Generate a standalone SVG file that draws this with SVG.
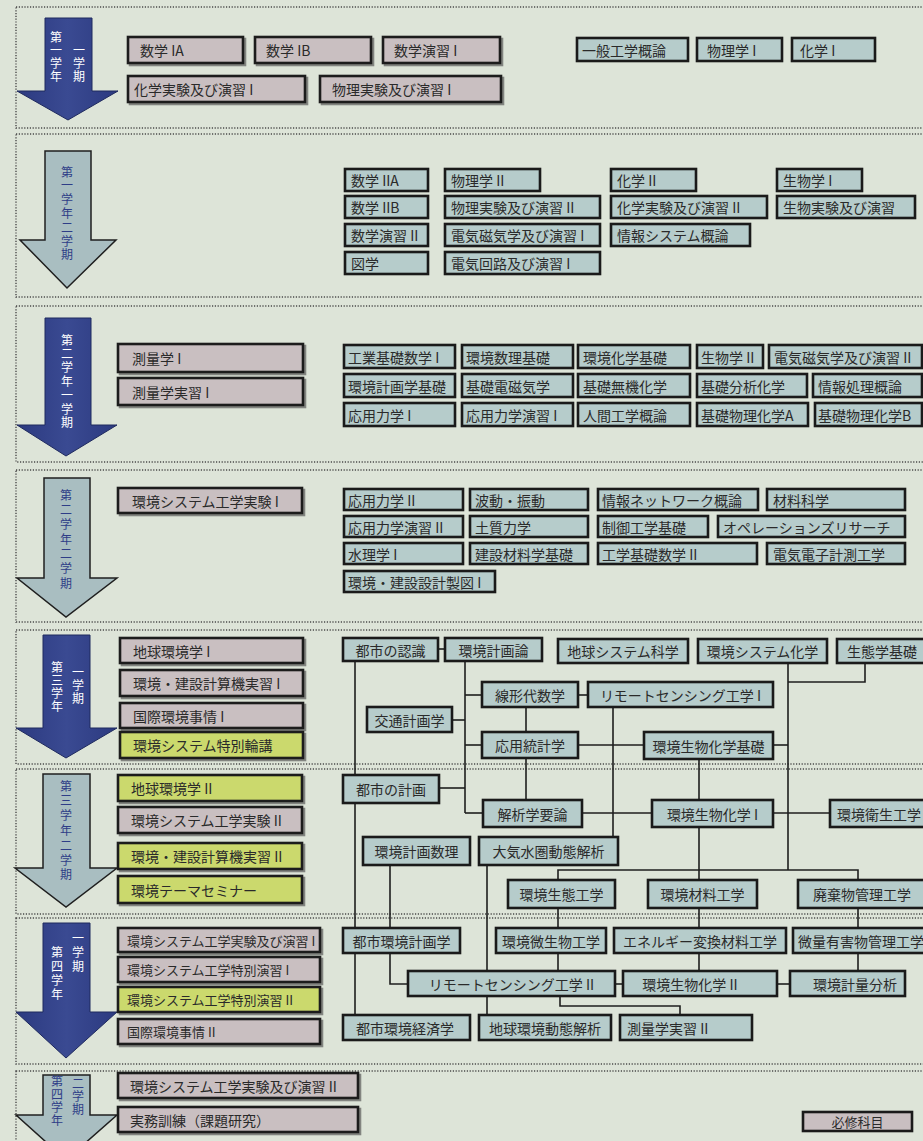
<svg xmlns="http://www.w3.org/2000/svg" width="923" height="1141" viewBox="0 0 923 1141">
<defs>
<filter id="ds" x="-5%" y="-20%" width="115%" height="160%"><feDropShadow dx="2" dy="2" stdDeviation="0.6" flood-color="#444" flood-opacity="0.6"/></filter>
<linearGradient id="gd" x1="0" y1="0" x2="1" y2="0"><stop offset="0" stop-color="#2c3a80"/><stop offset="0.5" stop-color="#3a4a92"/><stop offset="1" stop-color="#2c3a80"/></linearGradient>
</defs>
<style>
.sec{fill:none;stroke:#4a4a4a;stroke-width:1.4;stroke-dasharray:1.2 1.6}
.n rect{stroke:#1a1a1a;stroke-width:2.6}
.p{fill:#c9bfc1}
.b{fill:#b6cccb}
.y{fill:#cbd96d}
.sh{filter:url(#ds)}
text{font-family:"Noto Sans CJK JP","Noto Sans",sans-serif;font-size:14px;fill:#2a2a2a;dominant-baseline:central}
.c{text-anchor:middle}
.s13{font-size:13px}
.ad{fill:url(#gd);stroke:#1f2a5e;stroke-width:1}
.al{fill:#a9bec1;stroke:#1f1f1f;stroke-width:1.5}
.tw,.tb{font-size:12px;writing-mode:vertical-rl;text-anchor:start;letter-spacing:1px}
.tw{fill:#fff}
.tb{fill:#2e3d87}
#connectors path{fill:none;stroke:#1e1e1e;stroke-width:1.6}
</style>
<rect width="923" height="1141" fill="#dde4d8"/>
<g id="sections">
<rect class="sec" x="16" y="7" width="920" height="121"/>
<rect class="sec" x="16" y="134" width="920" height="163"/>
<rect class="sec" x="16" y="306" width="920" height="156"/>
<rect class="sec" x="16" y="470" width="920" height="152"/>
<rect class="sec" x="16" y="630" width="920" height="134"/>
<rect class="sec" x="16" y="769" width="920" height="145"/>
<rect class="sec" x="16" y="918" width="920" height="146"/>
<rect class="sec" x="16" y="1071" width="920" height="90"/>
</g>
<g id="arrows">
<g id="arrow-1-1"><polygon class="ad" points="45,18 92,18 92,91 118,91 68,120 17,91 45,91"/>
<text class="tw" x="56" y="31">第一学年</text><text class="tw" x="79" y="44">一学期</text></g>
<g id="arrow-1-2"><polygon class="al" points="45,151 91,151 91,240 116,240 67,288 20,240 45,240"/>
<text class="tb" x="67" y="166" style="letter-spacing:1.8px">第一学年二学期</text></g>
<g id="arrow-2-1"><polygon class="ad" points="45,318 91,318 91,425 117,425 66,456 17,425 45,425"/>
<text class="tw" x="67" y="334" style="letter-spacing:1.8px">第二学年一学期</text></g>
<g id="arrow-2-2"><polygon class="al" points="44,478 90,478 90,578 117,578 66,617 17,578 44,578"/>
<text class="tb" x="66" y="489" style="letter-spacing:2.7px">第二学年二学期</text></g>
<g id="arrow-3-1"><polygon class="ad" points="43,635 90,635 90,728 117,728 66,758 16,728 43,728"/>
<text class="tw" x="57" y="661" style="letter-spacing:1.3px">第三学年</text><text class="tw" x="78" y="666">一学期</text></g>
<g id="arrow-3-2"><polygon class="al" points="43,774 90,774 90,868 117,868 66,907 15,868 43,868"/>
<text class="tb" x="66" y="780" style="letter-spacing:2.8px">第三学年二学期</text></g>
<g id="arrow-4-1"><polygon class="ad" points="43,923 90,923 90,1012 117,1012 66,1058 16,1012 43,1012"/>
<text class="tw" x="57" y="946" style="letter-spacing:2px">第四学年</text><text class="tw" x="78" y="932" style="letter-spacing:2px">一学期</text></g>
<g id="arrow-4-2"><polygon class="al" points="43,1075 90,1075 90,1115 117,1115 66,1160 16,1115 43,1115"/>
<text class="tb" x="57" y="1075">第四学年</text><text class="tb" x="78" y="1077">二学期</text></g>
</g>
<g id="connectors">
<path d="M438,649 H445"/>
<path d="M355,660 V1015"/>
<path d="M465,660 V813"/>
<path d="M465,695 H482"/>
<path d="M452,720 H465"/>
<path d="M465,745 H482"/>
<path d="M439,788 H465"/>
<path d="M465,813 H483"/>
<path d="M578,695 H588"/>
<path d="M526,707 V732"/>
<path d="M526,758 V800"/>
<path d="M578,745 H644"/>
<path d="M613,707 V837"/>
<path d="M582,813 H652"/>
<path d="M699,759 V800"/>
<path d="M788,663 V870"/>
<path d="M788,682 H865 V663"/>
<path d="M773,745 H788"/>
<path d="M773,813 H830"/>
<path d="M558,880 V870 H858 V880"/>
<path d="M699,827 V880"/>
<path d="M487,865 V1015"/>
<path d="M390,865 V984 H408"/>
<path d="M558,908 V928"/>
<path d="M699,908 V928"/>
<path d="M858,908 V928"/>
<path d="M558,953 V971"/>
<path d="M699,953 V971"/>
<path d="M858,953 V971"/>
<path d="M615,984 H623"/>
<path d="M777,984 H790"/>
<path d="M560,996 V1006 H680 V1015"/>
</g>
<g id="n-math1a" class="n"><rect class="p sh" x="128" y="37" width="115" height="26"/><text x="140" y="50">数学 IA</text></g>
<g id="n-math1b" class="n"><rect class="p sh" x="255" y="37" width="116" height="26"/><text x="266" y="50">数学 IB</text></g>
<g id="n-mathex1" class="n"><rect class="p sh" x="383" y="37" width="117" height="26"/><text x="394" y="50">数学演習 I</text></g>
<g id="n-chemlab1" class="n"><rect class="p sh" x="128" y="76" width="177" height="26"/><text x="134" y="89">化学実験及び演習 I</text></g>
<g id="n-physlab1" class="n"><rect class="p sh" x="320" y="76" width="181" height="26"/><text x="332" y="89">物理実験及び演習 I</text></g>
<g id="n-genEng" class="n"><rect class="b" x="577" y="38" width="111" height="23"/><text x="582" y="49.5">一般工学概論</text></g>
<g id="n-phys1" class="n"><rect class="b" x="697" y="38" width="85" height="23"/><text x="707" y="49.5">物理学 I</text></g>
<g id="n-chem1" class="n"><rect class="b" x="792" y="38" width="83" height="23"/><text x="800" y="49.5">化学 I</text></g>

<g id="n-math2a" class="n"><rect class="b" x="345" y="169" width="83" height="22"/><text x="351" y="180">数学 IIA</text></g>
<g id="n-math2b" class="n"><rect class="b" x="345" y="196" width="83" height="22"/><text x="351" y="207">数学 IIB</text></g>
<g id="n-mathex2" class="n"><rect class="b" x="345" y="224" width="83" height="22"/><text x="351" y="235">数学演習 II</text></g>
<g id="n-zugaku" class="n"><rect class="b" x="345" y="252" width="83" height="22"/><text x="351" y="263">図学</text></g>
<g id="n-phys2" class="n"><rect class="b" x="445" y="169" width="95" height="22"/><text x="451" y="180">物理学 II</text></g>
<g id="n-physlab2" class="n"><rect class="b" x="445" y="196" width="155" height="22"/><text x="451" y="207">物理実験及び演習 II</text></g>
<g id="n-em1" class="n"><rect class="b" x="445" y="224" width="155" height="22"/><text x="451" y="235">電気磁気学及び演習 I</text></g>
<g id="n-circ1" class="n"><rect class="b" x="445" y="252" width="155" height="22"/><text x="451" y="263">電気回路及び演習 I</text></g>
<g id="n-chem2" class="n"><rect class="b" x="611" y="169" width="85" height="22"/><text x="617" y="180">化学 II</text></g>
<g id="n-chemlab2" class="n"><rect class="b" x="611" y="196" width="156" height="22"/><text x="617" y="207">化学実験及び演習 II</text></g>
<g id="n-infosys" class="n"><rect class="b" x="611" y="224" width="139" height="22"/><text x="617" y="235">情報システム概論</text></g>
<g id="n-bio1" class="n"><rect class="b" x="777" y="169" width="85" height="22"/><text x="783" y="180">生物学 I</text></g>
<g id="n-biolab" class="n"><rect class="b" x="777" y="196" width="138" height="22"/><text x="783" y="207">生物実験及び演習</text></g>

<g id="n-survey1" class="n"><rect class="p sh" x="118" y="344" width="185" height="28"/><text x="132" y="358">測量学 I</text></g>
<g id="n-surveylab1" class="n"><rect class="p sh" x="118" y="378" width="185" height="27"/><text x="132" y="391.5">測量学実習 I</text></g>
<g id="n-indmath1" class="n"><rect class="b" x="344" y="345" width="111" height="23"/><text x="348" y="356.5">工業基礎数学 I</text></g>
<g id="n-envplanbase" class="n"><rect class="b" x="344" y="374" width="111" height="23"/><text x="348" y="385.5">環境計画学基礎</text></g>
<g id="n-mech1" class="n"><rect class="b" x="344" y="403" width="111" height="23"/><text x="348" y="414.5">応用力学 I</text></g>
<g id="n-envmath" class="n"><rect class="b" x="462" y="345" width="111" height="23"/><text x="466" y="356.5">環境数理基礎</text></g>
<g id="n-basicem" class="n"><rect class="b" x="462" y="374" width="111" height="23"/><text x="466" y="385.5">基礎電磁気学</text></g>
<g id="n-mechex1" class="n"><rect class="b" x="462" y="403" width="111" height="23"/><text x="466" y="414.5">応用力学演習 I</text></g>
<g id="n-envchem" class="n"><rect class="b" x="578" y="345" width="112" height="23"/><text x="583" y="356.5">環境化学基礎</text></g>
<g id="n-inorg" class="n"><rect class="b" x="578" y="374" width="112" height="23"/><text x="583" y="385.5">基礎無機化学</text></g>
<g id="n-ergo" class="n"><rect class="b" x="578" y="403" width="112" height="23"/><text x="583" y="414.5">人間工学概論</text></g>
<g id="n-bio2" class="n"><rect class="b" x="697" y="345" width="66" height="23"/><text x="701" y="356.5">生物学 II</text></g>
<g id="n-anal" class="n"><rect class="b" x="697" y="374" width="110" height="23"/><text x="701" y="385.5">基礎分析化学</text></g>
<g id="n-physchemA" class="n"><rect class="b" x="697" y="403" width="111" height="23"/><text x="701" y="414.5">基礎物理化学A</text></g>
<g id="n-em2" class="n"><rect class="b" x="769" y="345" width="153" height="23"/><text x="774" y="356.5">電気磁気学及び演習 II</text></g>
<g id="n-infoproc" class="n"><rect class="b" x="813" y="374" width="109" height="23"/><text x="818" y="385.5">情報処理概論</text></g>
<g id="n-physchemB" class="n"><rect class="b" x="815" y="403" width="107" height="23"/><text x="818" y="414.5">基礎物理化学B</text></g>

<g id="n-envsyslab1" class="n"><rect class="p sh" x="118" y="488" width="184" height="25"/><text x="132" y="500.5">環境システム工学実験 I</text></g>
<g id="n-mech2" class="n"><rect class="b" x="344" y="489" width="119" height="21"/><text x="348" y="499.5">応用力学 II</text></g>
<g id="n-mechex2" class="n"><rect class="b" x="344" y="516" width="119" height="21"/><text x="348" y="526.5">応用力学演習 II</text></g>
<g id="n-hydro1" class="n"><rect class="b" x="344" y="543" width="119" height="21"/><text x="348" y="553.5">水理学 I</text></g>
<g id="n-drafting1" class="n"><rect class="b" x="344" y="571" width="151" height="21"/><text x="348" y="581.5">環境・建設設計製図 I</text></g>
<g id="n-wave" class="n"><rect class="b" x="470" y="489" width="118" height="21"/><text x="475" y="499.5">波動・振動</text></g>
<g id="n-soil" class="n"><rect class="b" x="470" y="516" width="118" height="21"/><text x="475" y="526.5">土質力学</text></g>
<g id="n-constmat" class="n"><rect class="b" x="470" y="543" width="118" height="21"/><text x="475" y="553.5">建設材料学基礎</text></g>
<g id="n-network" class="n"><rect class="b" x="598" y="489" width="160" height="21"/><text x="602" y="499.5">情報ネットワーク概論</text></g>
<g id="n-control" class="n"><rect class="b" x="598" y="516" width="110" height="21"/><text x="602" y="526.5">制御工学基礎</text></g>
<g id="n-engmath2" class="n"><rect class="b" x="598" y="543" width="159" height="21"/><text x="602" y="553.5">工学基礎数学 II</text></g>
<g id="n-matsci" class="n"><rect class="b" x="767" y="489" width="138" height="21"/><text x="773" y="499.5">材料科学</text></g>
<g id="n-or" class="n"><rect class="b" x="718" y="516" width="187" height="21"/><text x="723" y="526.5">オペレーションズリサーチ</text></g>
<g id="n-elecmeas" class="n"><rect class="b" x="767" y="543" width="138" height="21"/><text x="773" y="553.5">電気電子計測工学</text></g>

<g id="n-earthenv1" class="n"><rect class="p sh" x="120" y="638" width="183" height="25"/><text x="133" y="650.5">地球環境学 I</text></g>
<g id="n-comp1" class="n"><rect class="p sh" x="120" y="670" width="183" height="26"/><text x="133" y="683">環境・建設計算機実習 I</text></g>
<g id="n-intl1" class="n"><rect class="p sh" x="120" y="703" width="183" height="25"/><text x="133" y="715.5">国際環境事情 I</text></g>
<g id="n-seminar" class="n"><rect class="y sh" x="120" y="732" width="183" height="26"/><text x="133" y="745">環境システム特別輪講</text></g>
<g id="n-urbanrec" class="n"><rect class="b" x="343" y="638" width="95" height="23"/><text class="c" x="390.5" y="649.5">都市の認識</text></g>
<g id="n-envplan" class="n"><rect class="b" x="445" y="638" width="97" height="23"/><text class="c" x="493.5" y="649.5">環境計画論</text></g>
<g id="n-earthsys" class="n"><rect class="b" x="558" y="639" width="130" height="24"/><text class="c" x="623" y="651">地球システム科学</text></g>
<g id="n-envsyschem" class="n"><rect class="b" x="698" y="639" width="129" height="24"/><text class="c" x="762.5" y="651">環境システム化学</text></g>
<g id="n-ecology" class="n"><rect class="b" x="837" y="639" width="95" height="24"/><text x="847" y="651">生態学基礎</text></g>
<g id="n-linalg" class="n"><rect class="b" x="482" y="682" width="96" height="25"/><text class="c" x="530" y="694.5">線形代数学</text></g>
<g id="n-rs1" class="n"><rect class="b" x="588" y="682" width="185" height="25"/><text class="c" x="680.5" y="694.5">リモートセンシング工学 I</text></g>
<g id="n-traffic" class="n"><rect class="b" x="367" y="707" width="85" height="25"/><text class="c" x="409.5" y="719.5">交通計画学</text></g>
<g id="n-stats" class="n"><rect class="b" x="482" y="732" width="96" height="26"/><text class="c" x="530" y="745">応用統計学</text></g>
<g id="n-envbiochembase" class="n"><rect class="b" x="644" y="732" width="129" height="27"/><text class="c" x="708.5" y="745.5">環境生物化学基礎</text></g>

<g id="n-earthenv2" class="n"><rect class="y sh" x="118" y="775" width="184" height="26"/><text x="131" y="788">地球環境学 II</text></g>
<g id="n-envsyslab2" class="n"><rect class="p sh" x="118" y="807" width="184" height="26"/><text x="131" y="820">環境システム工学実験 II</text></g>
<g id="n-comp2" class="n"><rect class="y sh" x="118" y="843" width="184" height="26"/><text x="131" y="856">環境・建設計算機実習 II</text></g>
<g id="n-theme" class="n"><rect class="y sh" x="118" y="876" width="184" height="27"/><text x="131" y="889.5">環境テーマセミナー</text></g>
<g id="n-urbanplan" class="n"><rect class="b" x="343" y="775" width="96" height="28"/><text class="c" x="391" y="789">都市の計画</text></g>
<g id="n-analysis" class="n"><rect class="b" x="483" y="800" width="99" height="27"/><text class="c" x="532.5" y="813.5">解析学要論</text></g>
<g id="n-envbiochem1" class="n"><rect class="b" x="652" y="800" width="121" height="27"/><text class="c" x="712.5" y="813.5">環境生物化学 I</text></g>
<g id="n-envhyg" class="n"><rect class="b" x="830" y="800" width="100" height="27"/><text x="837" y="813.5">環境衛生工学</text></g>
<g id="n-envplanmath" class="n"><rect class="b" x="363" y="837" width="107" height="28"/><text class="c" x="416.5" y="851">環境計画数理</text></g>
<g id="n-atmos" class="n"><rect class="b" x="479" y="837" width="139" height="28"/><text class="c" x="548.5" y="851">大気水圏動態解析</text></g>
<g id="n-ecoeng" class="n"><rect class="b" x="508" y="880" width="107" height="28"/><text class="c" x="561.5" y="894">環境生態工学</text></g>
<g id="n-envmat" class="n"><rect class="b" x="648" y="880" width="109" height="28"/><text class="c" x="702.5" y="894">環境材料工学</text></g>
<g id="n-waste" class="n"><rect class="b" x="798" y="880" width="128" height="28"/><text class="c" x="862" y="894">廃棄物管理工学</text></g>

<g id="n-envsyslabex1" class="n"><rect class="p sh" x="118" y="928" width="202" height="24"/><text class="s13" x="127" y="940">環境システム工学実験及び演習 I</text></g>
<g id="n-special1" class="n"><rect class="p sh" x="118" y="957" width="202" height="25"/><text class="s13" x="127" y="969.5">環境システム工学特別演習 I</text></g>
<g id="n-special2" class="n"><rect class="y sh" x="118" y="987" width="202" height="25"/><text class="s13" x="127" y="999.5">環境システム工学特別演習 II</text></g>
<g id="n-intl2" class="n"><rect class="p sh" x="118" y="1019" width="202" height="25"/><text class="s13" x="127" y="1031.5">国際環境事情 II</text></g>
<g id="n-urbanenvplan" class="n"><rect class="b" x="343" y="928" width="117" height="25"/><text class="c" x="401.5" y="940.5">都市環境計画学</text></g>
<g id="n-microbe" class="n"><rect class="b" x="496" y="928" width="110" height="25"/><text class="c" x="551" y="940.5">環境微生物工学</text></g>
<g id="n-energy" class="n"><rect class="b" x="614" y="928" width="172" height="25"/><text class="c" x="700" y="940.5">エネルギー変換材料工学</text></g>
<g id="n-trace" class="n"><rect class="b" x="793" y="928" width="135" height="25"/><text x="798" y="940.5">微量有害物管理工学</text></g>
<g id="n-rs2" class="n"><rect class="b" x="408" y="971" width="207" height="25"/><text class="c" x="511.5" y="983.5">リモートセンシング工学 II</text></g>
<g id="n-envbiochem2" class="n"><rect class="b" x="623" y="971" width="154" height="25"/><text class="c" x="690" y="983.5">環境生物化学 II</text></g>
<g id="n-envmeas" class="n"><rect class="b" x="790" y="971" width="115" height="25"/><text class="c" x="855" y="983.5">環境計量分析</text></g>
<g id="n-urbanecon" class="n"><rect class="b" x="343" y="1015" width="127" height="25"/><text class="c" x="405" y="1027.5">都市環境経済学</text></g>
<g id="n-earthdyn" class="n"><rect class="b" x="479" y="1015" width="132" height="25"/><text class="c" x="545" y="1027.5">地球環境動態解析</text></g>
<g id="n-surveylab2" class="n"><rect class="b" x="620" y="1015" width="132" height="25"/><text x="627" y="1027.5">測量学実習 II</text></g>

<g id="n-envsyslabex2" class="n"><rect class="p sh" x="118" y="1073" width="240" height="25"/><text x="130" y="1085.5">環境システム工学実験及び演習 II</text></g>
<g id="n-practice" class="n"><rect class="p sh" x="118" y="1107" width="240" height="25"/><text x="130" y="1119.5">実務訓練（課題研究）</text></g>
<g id="legend" class="n"><rect class="p" x="803" y="1112" width="109" height="19"/><text class="c s13" x="857.5" y="1121.5">必修科目</text></g>
</svg>
